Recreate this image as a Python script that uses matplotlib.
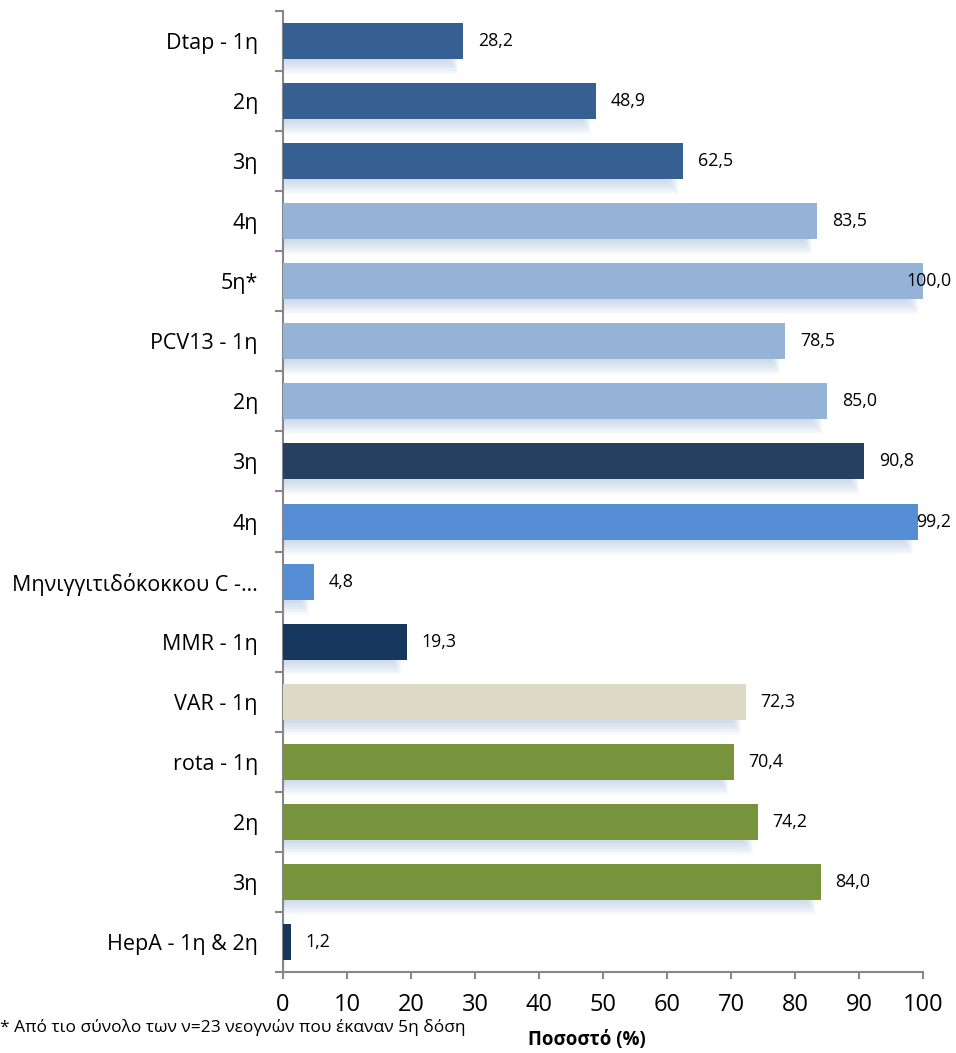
import matplotlib

matplotlib.use("Agg")
import matplotlib.pyplot as plt
from matplotlib.patches import Rectangle

plt.rcParams["font.family"] = ["Open Sans", "DejaVu Sans"]

# Vaccination coverage per dose (%)
categories = [
    "Dtap - 1η", "2η", "3η", "4η", "5η*",
    "PCV13 - 1η", "2η", "3η", "4η",
    "Μηνιγγιτιδόκοκκου C -…",
    "MMR - 1η", "VAR - 1η",
    "rota - 1η", "2η", "3η",
    "HepA - 1η & 2η",
]
values = [28.2, 48.9, 62.5, 83.5, 100.0, 78.5, 85.0, 90.8, 99.2, 4.8, 19.3, 72.3, 70.4, 74.2, 84.0, 1.2]
bar_colors = [
    "#366092", "#366092", "#366092", "#95B3D7", "#95B3D7",
    "#95B3D7", "#95B3D7", "#254061", "#558ED5",
    "#558ED5",
    "#17375E", "#DDD9C4",
    "#77933C", "#77933C", "#77933C",
    "#17375E",
]
x_ticks = [0, 10, 20, 30, 40, 50, 60, 70, 80, 90, 100]

fig = plt.figure(figsize=(9.56, 10.53), dpi=100)
ax = fig.add_axes([0.296, 0.0769, 0.6695, 0.9127])

bar_h = 0.6
ys = list(range(len(values)))

# Soft drop shadow below each bar: stacked translucent layers that get
# shorter and thinner, so they are densest right under the bar
n_layers = 10
for y, v in zip(ys, values):
    bottom = y + bar_h / 2
    for k in range(n_layers):
        depth = 0.25 * (1 - k / n_layers)
        w = v - 0.8 - 0.15 * k
        if w <= 0:
            continue
        ax.add_patch(Rectangle((0, bottom - 0.05), w, depth + 0.05,
                               facecolor="#9DB7D9", edgecolor="none",
                               alpha=0.06, zorder=1))

ax.barh(ys, values, height=bar_h, color=bar_colors, zorder=3)

# Value labels, kept inside the right edge of the figure
for y, v in zip(ys, values):
    txt = f"{v:.1f}".replace(".", ",")
    if v > 95:
        ax.text(104.4, y, txt, ha="right", va="center", fontsize=12.8,
                zorder=4, clip_on=False)
    else:
        ax.text(v + 2.3, y, txt, ha="left", va="center", fontsize=12.8,
                zorder=4, clip_on=False)

ax.set_xlim(0, 100)
ax.set_ylim(len(values) - 0.5, -0.5)

ax.set_yticks(ys)
ax.set_yticklabels(categories, fontsize=15.5)
ax.set_yticks([i - 0.5 for i in range(len(values) + 1)], minor=True)
ax.tick_params(axis="y", which="major", length=0, pad=18)
ax.tick_params(axis="y", which="minor", length=6, width=1.5, color="#868686", direction="out")

ax.set_xticks(x_ticks)
ax.set_xticklabels([str(t) for t in x_ticks], fontsize=17)
ax.tick_params(axis="x", length=5, width=1.5, color="#868686", direction="out", pad=10)

for side in ["top", "right"]:
    ax.spines[side].set_visible(False)
for side in ["left", "bottom"]:
    ax.spines[side].set_color("#868686")
    ax.spines[side].set_linewidth(1.5)

fig.text(0.0, 0.024, "* Από τιο σύνολο των ν=23 νεογνών που έκαναν 5η δόση",
         fontsize=12.5, ha="left", va="center")
fig.text(0.614, 0.012, "Ποσοστό (%)", fontsize=13.5, fontweight="bold",
         ha="center", va="center")

fig.savefig("out.png", dpi=100)
